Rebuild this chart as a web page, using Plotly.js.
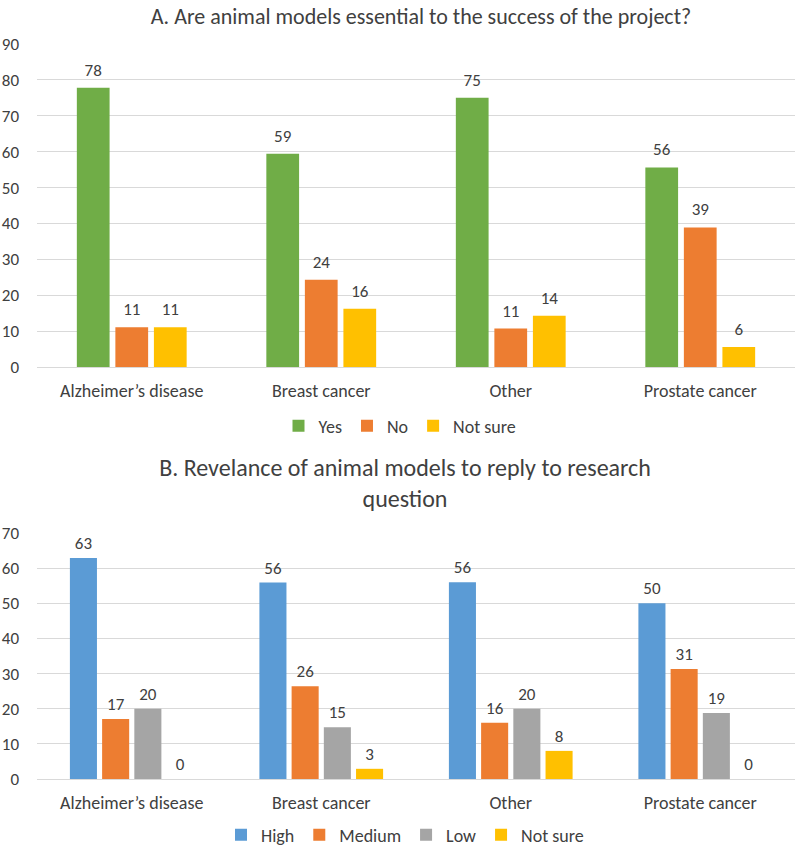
<!DOCTYPE html>
<html><head><meta charset="utf-8">
<script src="https://cdn.plot.ly/plotly-3.0.1.min.js"></script>
<style>body{margin:0;background:#fff}#chartA{width:797px;height:448px}#chartB{width:797px;height:404px}</style>
</head><body><div id="chartA"></div><div id="chartB"></div>
<script>
const categories = ["Alzheimer’s disease", "Breast cancer", "Other", "Prostate cancer"];
// Chart A (percentages)
const aYes = [77.8, 59.4, 75.0, 55.6];
const aNo = [11.1, 24.3, 10.7, 38.9];
const aNotSure = [11.1, 16.2, 14.3, 5.6];
// Chart B (percentages)
const bHigh = [62.9, 55.9, 56.0, 50.0];
const bMedium = [17.1, 26.4, 16.0, 31.3];
const bLow = [20.0, 14.7, 20.0, 18.8];
const bNotSure = [0, 2.9, 8.0, 0];
const aTicks = [0,10,20,30,40,50,60,70,80,90];
const bTicks = [0,10,20,30,40,50,60,70];
const titleA = 'A. Are animal models essential to the success of the project?';
const titleB = 'B. Revelance of animal models to reply to research<br>question';

const FONT = "Carlito, Lato, 'Open Sans', sans-serif";
function labelTemplate(padSize){
  const pad = '<span style="font-size:' + padSize + 'px;color:rgba(0,0,0,0)">&#8202;</span>';
  return pad + '%{y:.0f}' + pad;
}
function bar(name, y, color, padSize){
  return {type:'bar', name, x:categories, y,
    marker:{color}, texttemplate:labelTemplate(padSize), textposition:'outside', cliponaxis:false, constraintext:'none',
    textfont:{family:FONT, size:17, color:'#404040'}, hoverinfo:'skip'};
}
const xbase = {type:'category', showgrid:false, showline:true, linecolor:'#D9D9D9', linewidth:1,
  ticks:'', tickfont:{family:FONT, size:18, color:'#404040'}, ticklabelstandoff:7, fixedrange:true};
const ybase = {showgrid:true, gridcolor:'#D9D9D9', zeroline:false, showline:false,
  tickfont:{family:FONT, size:17, color:'#404040'}, ticklabelstandoff:17, fixedrange:true};
const legbase = {orientation:'h', xanchor:'center', yanchor:'middle', xref:'container', yref:'container',
  font:{family:FONT, size:18, color:'#404040'}, itemwidth:30, traceorder:'normal'};

const layoutA = {
  width:797, height:448, margin:{l:37, r:2, t:44, b:81},
  paper_bgcolor:'#fff', plot_bgcolor:'#fff', font:{family:FONT},
  barmode:'group', bargap:0.39, bargroupgap:0.15, showlegend:true,
  title:{text:titleA, x:421/797, y:1-16/448, xref:'container', yref:'container',
    xanchor:'center', yanchor:'middle', font:{family:FONT, size:22, color:'#404040'}},
  xaxis:xbase,
  yaxis:Object.assign({}, ybase, {range:[0,90], tickvals:aTicks}),
  legend:Object.assign({}, legbase, {x:400/797, y:1-426/448})
};
const layoutB = {
  width:797, height:404, margin:{l:37, r:2, t:85, b:73},
  paper_bgcolor:'#fff', plot_bgcolor:'#fff', font:{family:FONT},
  barmode:'group', bargap:0.32, bargroupgap:0.16, showlegend:true,
  title:{text:titleB, x:405/797, y:1-28/404, xref:'container', yref:'container',
    xanchor:'center', yanchor:'middle', font:{family:FONT, size:24, color:'#404040'}},
  xaxis:xbase,
  yaxis:Object.assign({}, ybase, {range:[0,70], tickvals:bTicks}),
  legend:Object.assign({}, legbase, {x:405/797, y:1-387/404})
};
Plotly.newPlot('chartA', [
  bar('Yes', aYes, '#70AD47', 32), bar('No', aNo, '#ED7D31', 32), bar('Not sure', aNotSure, '#FFC000', 32)
], layoutA, {staticPlot:true});
Plotly.newPlot('chartB', [
  bar('High', bHigh, '#5B9BD5', 24), bar('Medium', bMedium, '#ED7D31', 24),
  bar('Low', bLow, '#A5A5A5', 24), bar('Not sure', bNotSure, '#FFC000', 24)
], layoutB, {staticPlot:true});
</script></body></html>
